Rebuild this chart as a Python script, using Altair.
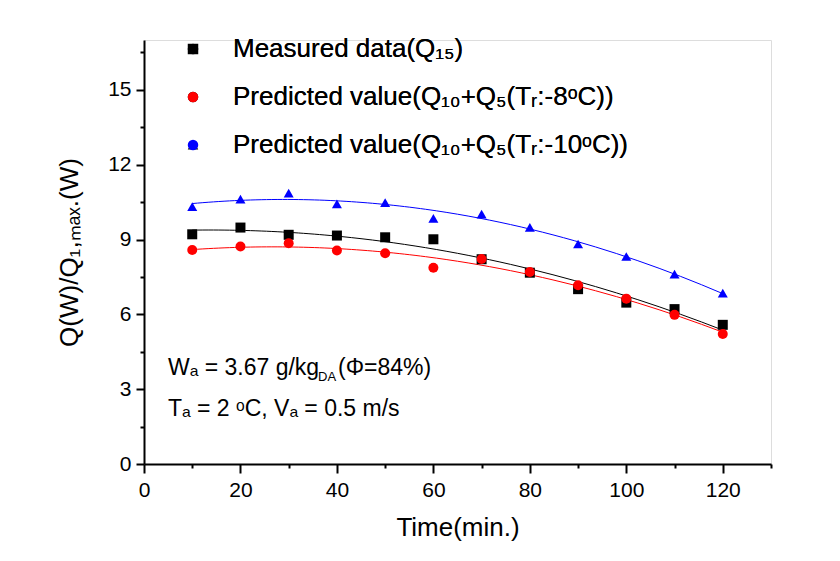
import altair as alt
import pandas as pd

times = [10, 20, 30, 40, 50, 60, 70, 80, 90, 100, 110, 120]
measured = [9.21, 9.48, 9.19, 9.16, 9.09, 9.01, 8.21, 7.67, 7.01, 6.47, 6.21, 5.58]
pred_m8 = [8.58, 8.72, 8.85, 8.56, 8.45, 7.87, 8.22, 7.70, 7.17, 6.63, 5.98, 5.21]
pred_m10 = [10.32, 10.62, 10.86, 10.43, 10.48, 9.85, 10.02, 9.49, 8.82, 8.32, 7.61, 6.85]

series_names = [
    "Measured data(Q\u2081\u2085)",
    "Predicted value(Q\u2081\u2080+Q\u2085(T\u1d63:-8\u1d52C))",
    "Predicted value(Q\u2081\u2080+Q\u2085(T\u1d63:-10\u1d52C))",
]
colors = ["#000000", "#ff0000", "#0000ff"]
shapes = ["square", "circle", "triangle-up"]

x_ticks = list(range(0, 131, 10))
y_ticks = [i * 1.5 for i in range(12)]

rows = []
for name, vals in zip(series_names, [measured, pred_m8, pred_m10]):
    for t, v in zip(times, vals):
        rows.append({"time": t, "value": v, "series": name})
df = pd.DataFrame(rows)

FONT = "Liberation Sans"

x_enc = alt.X(
    "time:Q",
    scale=alt.Scale(domain=[0, 130], nice=False, zero=False),
    axis=alt.Axis(
        values=x_ticks,
        labelExpr="datum.value % 20 == 0 ? datum.label : ''",
        tickSize=alt.condition("datum.value % 20 == 0", alt.value(9), alt.value(4)),
        labelOverlap=False,
        labelFlush=False,
        grid=False,
        domainColor="black",
        domainWidth=2,
        tickColor="black",
        tickWidth=2,
        labelColor="black",
        labelFont=FONT,
        labelFontSize=21,
        labelPadding=6,
        title="Time(min.)",
        titleFont=FONT,
        titleFontSize=26,
        titleFontWeight="normal",
        titleColor="black",
        titlePadding=14,
    ),
)
y_enc = alt.Y(
    "value:Q",
    scale=alt.Scale(domain=[0, 17], nice=False, zero=False),
    axis=alt.Axis(
        values=y_ticks,
        labelExpr="datum.value % 3 == 0 ? datum.label : ''",
        tickSize=alt.condition("datum.value % 3 == 0", alt.value(8), alt.value(4)),
        labelOverlap=False,
        labelFlush=False,
        grid=False,
        domainColor="black",
        domainWidth=2,
        tickColor="black",
        tickWidth=2,
        labelColor="black",
        labelFont=FONT,
        labelFontSize=21,
        labelPadding=5,
        title="Q(W)/Q\u2081,\u2098\u2090\u2093.(W)",
        titleFont=FONT,
        titleFontSize=26,
        titleFontWeight="normal",
        titleColor="black",
        titlePadding=25,
    ),
)

legend = alt.Legend(
    title=None,
    orient="none",
    legendX=36,
    legendY=-4,
    labelFont=FONT,
    labelFontSize=26,
    labelColor="black",
    labelOffset=27,
    rowPadding=22,
    symbolSize=110,
    symbolStrokeWidth=0,
    padding=0,
    labelLimit=600,
)

lines = (
    alt.Chart(df)
    .transform_regression("time", "value", groupby=["series"], method="poly", order=2, extent=[10, 120])
    .mark_line(strokeWidth=1)
    .encode(
        x=x_enc,
        y=y_enc,
        stroke=alt.Stroke("series:N", scale=alt.Scale(domain=series_names, range=colors), legend=None),
        detail="series:N",
    )
)

points = (
    alt.Chart(df)
    .mark_point(filled=True, opacity=1, size=100)
    .encode(
        x=x_enc,
        y=y_enc,
        color=alt.Color("series:N", scale=alt.Scale(domain=series_names, range=colors), legend=legend),
        shape=alt.Shape("series:N", scale=alt.Scale(domain=series_names, range=shapes), legend=legend),
        order=alt.Order("series:N"),
    )
)

ann1 = alt.Chart(pd.DataFrame({"t": ["W\u2090 = 3.67 g/kg"]})).mark_text(
    align="left", baseline="alphabetic", font=FONT, fontSize=23, color="black"
).encode(x=alt.value(24), y=alt.value(335), text="t:N")
ann1b = alt.Chart(pd.DataFrame({"t": ["DA"]})).mark_text(
    align="left", baseline="alphabetic", font=FONT, fontSize=13, color="black"
).encode(x=alt.value(174), y=alt.value(341), text="t:N")
ann1c = alt.Chart(pd.DataFrame({"t": ["(\u03a6=84%)"]})).mark_text(
    align="left", baseline="alphabetic", font=FONT, fontSize=23, color="black"
).encode(x=alt.value(194), y=alt.value(335), text="t:N")
ann2 = alt.Chart(pd.DataFrame({"t": ["T\u2090 = 2 \u1d52C, V\u2090 = 0.5 m/s"]})).mark_text(
    align="left", baseline="alphabetic", font=FONT, fontSize=23, color="black"
).encode(x=alt.value(24), y=alt.value(376), text="t:N")

chart = (
    alt.layer(lines, points, ann1, ann1b, ann1c, ann2)
    .resolve_scale(stroke="independent", color="independent")
    .properties(
        width=627,
        height=424,
        autosize=alt.AutoSizeParams(type="none"),
        padding={"left": 136, "top": 32, "right": 40, "bottom": 80},
    )
    .configure_view(stroke=None)
    .configure(background="white")
)

chart.save("out.html", embed_options={"renderer": "svg", "actions": False})
